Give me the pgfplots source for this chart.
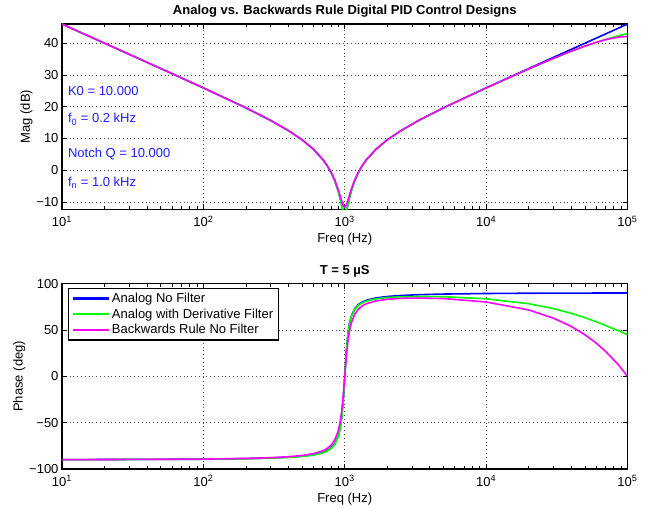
\documentclass[border=0pt]{standalone}
\usepackage{fontspec}
\setmainfont{Liberation Sans}
\usepackage{pgfplots}
\pgfplotsset{compat=1.18}
\definecolor{mblue}{RGB}{0,0,255}
\definecolor{mgreen}{RGB}{0,255,0}
\definecolor{mmag}{RGB}{255,0,255}
\definecolor{txtblue}{RGB}{30,30,255}
\newcommand{\ff}{\fontsize{13}{15}\selectfont}

\pgfplotsset{bode/.style={
  scale only axis, width=565.5pt, height=185.3pt,
  xmin=10, xmax=100000,
  xtick={10,100,1000,10000,100000},
  xticklabels={10\textsuperscript{1},10\textsuperscript{2},10\textsuperscript{3},10\textsuperscript{4},10\textsuperscript{5}},
  xticklabel style={yshift=-3pt},
  axis line style={line width=1.5pt},
  every tick/.style={black, line width=0.8pt},
  major tick length=5pt, minor tick length=3pt,
  grid=major, grid style={dash pattern=on 0.8pt off 3pt, black!70, line width=0.6pt},
  tick label style={font=\ff},
  label style={font=\ff},
  ylabel style={yshift=-3pt},
  title style={font=\bfseries\ff, yshift=-3pt},
  xlabel={Freq (Hz)},
}}

\begin{document}
\begin{tikzpicture}
% magnitude
\begin{semilogxaxis}[bode, at={(0,259.7pt)}, anchor=south west,
  ymin=-12.3, ymax=46.05,
  ytick={-10,0,10,20,30,40}, yticklabels={−10,0,10,20,30,40},
  ylabel={Mag (dB)},
  title={Analog vs. Backwards Rule Digital PID Control Designs}]
\addplot[color=mblue, line width=1.6pt] coordinates {(10,46.02)(20,40.00)(50,32.02)(100,25.93)(200,19.65)(300,15.66)(400,12.46)(500,9.56)(600,6.62)(700,3.35)(750,1.46)(800,-0.71)(850,-3.31)(900,-6.61)(925,-8.62)(950,-10.85)(975,-12.99)(990,-13.81)(1000,-13.98)(1010.1,-13.81)(1025.6,-12.99)(1052.6,-10.85)(1081.1,-8.62)(1111.1,-6.61)(1176.5,-3.31)(1250,-0.71)(1333.3,1.46)(1428.6,3.35)(1666.7,6.62)(2000,9.56)(2500,12.46)(3333,15.66)(5000,19.65)(10000,25.93)(20000,32.02)(30000,35.55)(40000,38.06)(50000,40.00)(60000,41.58)(70000,42.92)(85000,44.61)(90000,45.11)(100000,46.02)};
\addplot[color=mgreen, line width=1.6pt] coordinates {(10,46.02)(20,40.00)(50,32.02)(100,25.93)(200,19.65)(300,15.66)(400,12.46)(500,9.56)(600,6.62)(700,3.35)(750,1.46)(800,-0.71)(850,-3.31)(900,-6.61)(925,-8.62)(950,-10.85)(975,-12.99)(990,-13.81)(1000,-13.98)(1010.1,-13.81)(1025.6,-12.99)(1052.6,-10.85)(1081.1,-8.62)(1111.1,-6.61)(1176.5,-3.31)(1250,-0.71)(1333.3,1.46)(1428.6,3.35)(1666.7,6.62)(2000,9.56)(2500,12.46)(3333,15.66)(5000,19.64)(10000,25.89)(20000,31.85)(30000,35.18)(40000,37.42)(50000,39.03)(60000,40.24)(70000,41.19)(85000,42.25)(90000,42.53)(100000,43.01)};
\addplot[color=mmag, line width=1.6pt] coordinates {(10,46.02)(20,40.00)(50,32.02)(100,25.93)(200,19.65)(300,15.66)(400,12.48)(500,9.57)(600,6.64)(700,3.39)(750,1.53)(800,-0.59)(850,-3.09)(900,-6.12)(925,-7.85)(950,-9.60)(975,-11.05)(990,-11.52)(1000,-11.61)(1010.1,-11.49)(1025.6,-10.96)(1052.6,-9.48)(1081.1,-7.72)(1111.1,-6.00)(1176.5,-3.00)(1250,-0.52)(1333.3,1.59)(1428.6,3.44)(1666.7,6.67)(2000,9.60)(2500,12.50)(3333,15.68)(5000,19.66)(10000,25.92)(20000,31.89)(30000,35.25)(40000,37.49)(50000,39.10)(60000,40.27)(70000,41.11)(85000,41.87)(90000,42.01)(100000,42.11)};
\node[anchor=west, inner sep=0pt, text=txtblue, font=\ff] at (axis cs:11,25) {K0 = 10.000};
\node[anchor=west, inner sep=0pt, text=txtblue, font=\ff] at (axis cs:11,16) {f\textsubscript{0} = 0.2 kHz};
\node[anchor=west, inner sep=0pt, text=txtblue, font=\ff] at (axis cs:11,5) {Notch Q = 10.000};
\node[anchor=west, inner sep=0pt, text=txtblue, font=\ff] at (axis cs:11,-4) {f\textsubscript{n} = 1.0 kHz};
\end{semilogxaxis}

% phase
\begin{semilogxaxis}[bode, at={(0,0)}, anchor=south west,
  ymin=-100, ymax=100,
  ytick={-100,-50,0,50,100}, yticklabels={−100,−50,0,50,100},
  ylabel={Phase (deg)},
  title={T = 5 µS},
  legend cell align=left,
  legend style={at={(0.0106,0.978)}, anchor=north west, draw=black, line width=1.2pt,
    font=\ff, inner xsep=3pt, inner ysep=2.6pt, row sep=0.8pt},
  legend image code/.code={\draw[#1] (0pt,0pt) -- (36pt,0pt);}]
\addlegendimage{color=mblue, line width=2.4pt}
\addlegendentry{Analog No Filter}
\addlegendimage{color=mgreen, line width=2.4pt}
\addlegendentry{Analog with Derivative Filter}
\addlegendimage{color=mmag, line width=2.4pt}
\addlegendentry{Backwards Rule No Filter}
\addplot[color=mblue, line width=1.6pt, forget plot] coordinates {(10,-89.94)(100,-89.42)(200,-88.81)(300,-88.11)(400,-87.27)(500,-86.19)(600,-84.64)(700,-82.18)(750,-80.27)(800,-77.47)(850,-72.97)(900,-64.65)(925,-57.35)(950,-45.74)(975,-26.84)(990,-11.37)(1000,0)(1010.1,11.37)(1025.6,26.84)(1052.6,45.74)(1081.1,57.35)(1111.1,64.65)(1176.5,72.97)(1250,77.47)(1333.3,80.27)(1428.6,82.18)(1666.7,84.64)(2000,86.19)(2500,87.27)(3333,88.11)(5000,88.81)(10000,89.42)(20000,89.71)(50000,89.89)(100000,89.94)};
\addplot[color=mgreen, line width=1.6pt, forget plot] coordinates {(10,-89.95)(100,-89.48)(200,-88.92)(300,-88.28)(400,-87.50)(500,-86.48)(600,-84.98)(700,-82.58)(750,-80.70)(800,-77.93)(850,-73.46)(900,-65.17)(925,-57.88)(950,-46.28)(975,-27.40)(990,-11.94)(1000,-0.57)(1010.1,10.79)(1025.6,26.25)(1052.6,45.14)(1081.1,56.73)(1111.1,64.01)(1176.5,72.30)(1250,76.75)(1333.3,79.51)(1428.6,81.36)(1666.7,83.69)(2000,85.04)(2500,85.84)(3333,86.20)(5000,85.95)(10000,83.71)(20000,78.40)(30000,73.11)(40000,68.06)(50000,63.32)(60000,58.94)(70000,54.93)(85000,49.57)(90000,47.95)(100000,44.94)};
\addplot[color=mmag, line width=1.6pt, forget plot] coordinates {(10,-89.93)(100,-89.33)(200,-88.61)(300,-87.79)(400,-86.78)(500,-85.44)(600,-83.51)(700,-80.39)(750,-77.95)(800,-74.38)(850,-68.73)(900,-58.69)(925,-50.41)(950,-38.36)(975,-21.18)(990,-8.80)(1000,-0.1)(1010.1,8.59)(1025.6,20.86)(1052.6,37.58)(1081.1,49.30)(1111.1,57.36)(1176.5,67.15)(1250,72.68)(1333.3,76.17)(1428.6,78.53)(1666.7,81.50)(2000,83.21)(2500,84.18)(3333,84.53)(5000,83.94)(10000,80.25)(20000,71.64)(30000,62.77)(40000,53.83)(50000,44.88)(60000,35.91)(70000,26.94)(85000,13.47)(90000,8.98)(100000,0)};
\end{semilogxaxis}
\pgfresetboundingbox
\useasboundingbox (-62pt,-41pt) rectangle (595pt,469pt);
\end{tikzpicture}
\end{document}
